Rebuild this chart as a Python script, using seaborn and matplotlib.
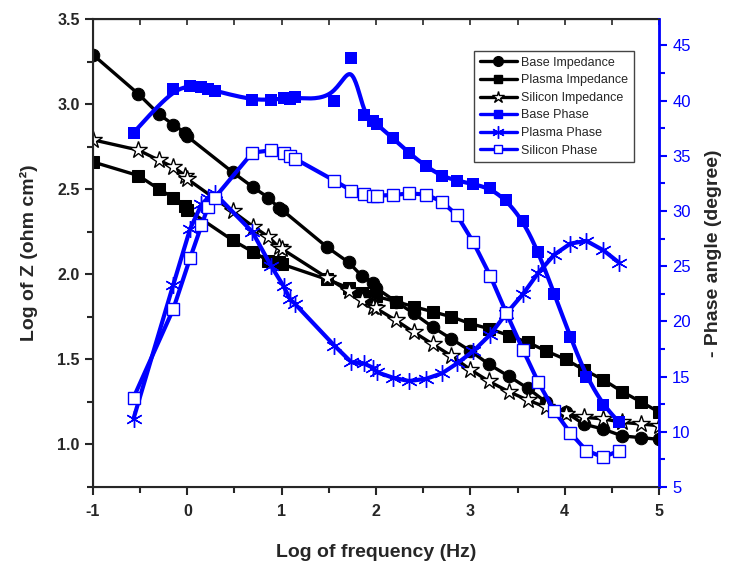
import numpy as np
import seaborn as sns
import matplotlib.pyplot as plt
from matplotlib.lines import Line2D
from matplotlib.ticker import MultipleLocator

# log of frequency for impedance series
x_imp = [-1.0, -0.52, -0.30, -0.15, -0.02, 0.0, 0.48, 0.70, 0.86, 0.97, 1.0,
         1.48, 1.71, 1.85, 1.97, 2.0, 2.21, 2.40, 2.60, 2.80, 3.0, 3.2, 3.41,
         3.61, 3.8, 4.01, 4.2, 4.41, 4.61, 4.81, 5.0]
base_z = [3.29, 3.06, 2.94, 2.88, 2.83, 2.81, 2.60, 2.51, 2.45, 2.39, 2.38,
          2.16, 2.07, 1.99, 1.95, 1.92, 1.84, 1.77, 1.69, 1.62, 1.55, 1.47, 1.40,
          1.33, 1.25, 1.19, 1.12, 1.09, 1.05, 1.04, 1.03]
plasma_z = [2.66, 2.58, 2.50, 2.45, 2.40, 2.38, 2.20, 2.13, 2.08, 2.07, 2.06,
            1.97, 1.92, 1.89, 1.87, 1.87, 1.84, 1.81, 1.78, 1.75, 1.71, 1.68, 1.64,
            1.60, 1.55, 1.50, 1.44, 1.38, 1.31, 1.25, 1.19]
silicon_z = [2.79, 2.73, 2.67, 2.63, 2.58, 2.56, 2.37, 2.28, 2.22, 2.16, 2.15,
             1.98, 1.90, 1.85, 1.81, 1.80, 1.73, 1.66, 1.59, 1.52, 1.44, 1.37, 1.31,
             1.26, 1.22, 1.18, 1.16, 1.15, 1.13, 1.12, 1.11]

# log of frequency for phase series
x_ph = [-0.57, -0.15, 0.03, 0.15, 0.22, 0.29, 0.69, 0.89, 1.02, 1.09, 1.14,
        1.56, 1.74, 1.87, 1.97, 2.01, 2.18, 2.35, 2.53, 2.70, 2.86, 3.03, 3.21,
        3.38, 3.56, 3.72, 3.89, 4.06, 4.23, 4.41, 4.58]
base_ph = [37.1, 41.05, 41.3, 41.2, 41.1, 40.9, 40.05, 40.1, 40.2, 40.15, 40.3,
           40.0, 43.9, 38.7, 38.15, 37.85, 36.6, 35.25, 34.05, 33.15, 32.75, 32.45, 32.05,
           31.0, 29.1, 26.3, 22.5, 18.6, 15.0, 12.4, 10.85]
plasma_ph = [11.2, 23.3, 28.4, 30.6, 31.2, 31.6, 28.1, 25.0, 23.2, 22.0, 21.6,
             17.8, 16.3, 16.2, 15.8, 15.4, 14.9, 14.6, 14.8, 15.3, 16.2, 17.3, 18.8,
             20.7, 22.5, 24.4, 26.05, 27.05, 27.3, 26.45, 25.3]
silicon_ph = [13.1, 21.1, 25.75, 28.7, 30.4, 31.2, 35.3, 35.5, 35.3, 35.0, 34.75,
              32.75, 31.85, 31.55, 31.4, 31.4, 31.45, 31.6, 31.5, 30.85, 29.6, 27.2, 24.15,
              20.8, 17.4, 14.5, 11.9, 9.9, 8.3, 7.7, 8.3]

labels = ['Base Impedance', 'Plasma Impedance', 'Silicon Impedance',
          'Base Phase', 'Plasma Phase', 'Silicon Phase']


def bspline(x, y, n=16):
    # uniform cubic B-spline through control points (like Origin's B-spline line)
    px = np.r_[[x[0]] * 2, x, [x[-1]] * 2]
    py = np.r_[[y[0]] * 2, y, [y[-1]] * 2]
    t = np.linspace(0, 1, n, endpoint=False)
    b0 = (1 - t) ** 3 / 6
    b1 = (3 * t ** 3 - 6 * t ** 2 + 4) / 6
    b2 = (-3 * t ** 3 + 3 * t ** 2 + 3 * t + 1) / 6
    b3 = t ** 3 / 6
    cx, cy = [], []
    for i in range(len(px) - 3):
        cx.append(b0 * px[i] + b1 * px[i + 1] + b2 * px[i + 2] + b3 * px[i + 3])
        cy.append(b0 * py[i] + b1 * py[i + 1] + b2 * py[i + 2] + b3 * py[i + 3])
    cx.append([x[-1]])
    cy.append([y[-1]])
    return np.concatenate(cx), np.concatenate(cy)


sns.set_style('ticks')
plt.rcParams['font.family'] = ['Liberation Sans', 'DejaVu Sans']
plt.rcParams['axes.unicode_minus'] = False

blue = '#0000ff'
fig = plt.figure(figsize=(7.3, 5.63), dpi=100)
ax = fig.add_axes([93 / 730, 1 - 487 / 563, 566 / 730, 468 / 563])

lw = 2.4
sns.lineplot(x=x_imp, y=base_z, ax=ax, color='k', lw=lw, marker='o', markersize=9,
             markeredgecolor='k', sort=False, estimator=None, legend=False)
sns.lineplot(x=x_imp, y=plasma_z, ax=ax, color='k', lw=lw, marker='s', markersize=8,
             markeredgecolor='k', sort=False, estimator=None, legend=False)
sns.lineplot(x=x_imp, y=silicon_z, ax=ax, color='k', lw=lw, marker='*', markersize=13,
             markerfacecolor='white', markeredgecolor='k', markeredgewidth=1.0,
             sort=False, estimator=None, legend=False)

ax.set_xlim(-1, 5)
ax.set_ylim(0.75, 3.5)
ax.xaxis.set_major_locator(MultipleLocator(1))
ax.xaxis.set_minor_locator(MultipleLocator(0.5))
ax.yaxis.set_major_locator(MultipleLocator(0.5))
ax.yaxis.set_minor_locator(MultipleLocator(0.25))
ax.tick_params(which='major', length=6, width=1.5, labelsize=11.5)
ax.tick_params(which='minor', length=4, width=1.5)
ax.tick_params(axis='x', pad=6)
for t in ax.get_xticklabels() + ax.get_yticklabels():
    t.set_fontweight('bold')
for s in ['left', 'bottom', 'top']:
    ax.spines[s].set_linewidth(1.5)
ax.set_xlabel('Log of frequency (Hz)', fontsize=14, fontweight='bold', labelpad=18)
ax.set_ylabel('Log of Z (ohm cm²)', fontsize=14, fontweight='bold', labelpad=14)

top = ax.secondary_xaxis('top')
top.xaxis.set_major_locator(MultipleLocator(0.5))
top.tick_params(direction='in', length=4, width=1.2, labeltop=False)

ax2 = ax.twinx()
sx, sy = bspline(np.array(x_ph), np.array(base_ph))
sns.lineplot(x=sx, y=sy, ax=ax2, color=blue, lw=3, sort=False, estimator=None, legend=False)
sns.scatterplot(x=x_ph, y=base_ph, ax=ax2, color=blue, marker='s', s=75,
                edgecolor=blue, linewidth=0, zorder=3, legend=False)
sns.lineplot(x=x_ph, y=plasma_ph, ax=ax2, color=blue, lw=3, marker=(6, 2, 0),
             markersize=12, markeredgecolor=blue, markeredgewidth=1.0,
             sort=False, estimator=None, legend=False)
sns.lineplot(x=x_ph, y=silicon_ph, ax=ax2, color=blue, lw=3, marker='s', markersize=9,
             markerfacecolor='white', markeredgecolor=blue, markeredgewidth=1.0,
             sort=False, estimator=None, legend=False)

ax2.set_ylim(5, 47.4)
ax2.yaxis.set_major_locator(MultipleLocator(5))
ax2.yaxis.set_minor_locator(MultipleLocator(2.5))
ax2.tick_params(axis='y', which='major', length=6, width=1.5, colors=blue, labelsize=12)
ax2.tick_params(axis='y', which='minor', length=4, width=1.5, colors=blue)
ax2.spines['right'].set_color(blue)
ax2.spines['right'].set_linewidth(2)
ax2.set_ylabel('- Phase angle (degree)', fontsize=14, fontweight='bold', labelpad=10)

handles = [
    Line2D([], [], color='k', lw=lw, marker='o', markersize=7),
    Line2D([], [], color='k', lw=lw, marker='s', markersize=6),
    Line2D([], [], color='k', lw=lw, marker='*', markersize=9, markerfacecolor='white'),
    Line2D([], [], color=blue, lw=lw, marker='s', markersize=6),
    Line2D([], [], color=blue, lw=lw, marker=(6, 2, 0), markersize=9),
    Line2D([], [], color=blue, lw=lw, marker='s', markersize=6, markerfacecolor='white'),
]
leg = ax2.legend(handles, labels, loc='upper left', bbox_to_anchor=(474 / 730, 1 - 51 / 563),
                 bbox_transform=fig.transFigure, fontsize=9, frameon=True, fancybox=False,
                 edgecolor='#444444', framealpha=1, handlelength=3.0, handletextpad=0.3,
                 labelspacing=0.45, borderpad=0.45, borderaxespad=0)
leg.get_frame().set_linewidth(1.0)

fig.savefig('out.png', dpi=100)
